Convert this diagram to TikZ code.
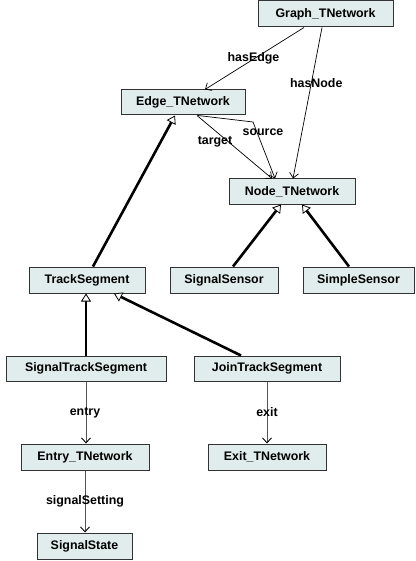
\documentclass[tikz,border=0pt]{standalone}
\usepackage{fontspec}
\setmainfont{Liberation Sans}
\usetikzlibrary{arrows.meta}
\definecolor{boxfill}{HTML}{E1ECEC}
\definecolor{boxline}{HTML}{333333}
\definecolor{navline}{HTML}{555555}
\tikzset{
  cls/.style={draw=boxline, line width=1pt, fill=boxfill, inner sep=0pt,
    font=\fontsize{12.4}{14}\selectfont\bfseries},
  lbl/.style={inner sep=0pt, font=\fontsize{12.4}{14}\selectfont\bfseries},
  assoc/.style={draw=black, line width=0.7pt, -{Straight Barb[length=5pt,width=9pt,line width=0.7pt]}},
  nav/.style={draw=navline, line width=1pt, -{Straight Barb[length=5pt,width=9pt,line width=0.9pt,color=black]}},
  inherit/.style={draw=black, line width=2.6pt, -{Triangle[open,length=8pt,width=10pt,line width=0.8pt,fill=white]}},
}
\begin{document}
\begin{tikzpicture}[x=1pt,y=-1pt]
\useasboundingbox (0,0) rectangle (415,561);

% classes
\node[cls, minimum width=135pt, minimum height=26pt] (graph) at (325.5,14) {Graph\_TNetwork};
\node[cls, minimum width=124pt, minimum height=25pt] (edge) at (183,102.5) {Edge\_TNetwork};
\node[cls, minimum width=126pt, minimum height=25pt] (nodeT) at (292,191.5) {Node\_TNetwork};
\node[cls, minimum width=116pt, minimum height=26pt] (track) at (87,280) {TrackSegment};
\node[cls, minimum width=108pt, minimum height=26pt] (sigsens) at (224,280) {SignalSensor};
\node[cls, minimum width=111pt, minimum height=26pt] (simsens) at (358.5,280) {SimpleSensor};
\node[cls, minimum width=160pt, minimum height=25pt] (sigtrack) at (86,368.5) {SignalTrackSegment};
\node[cls, minimum width=146pt, minimum height=25pt] (jointrack) at (267,368.5) {JoinTrackSegment};
\node[cls, minimum width=128pt, minimum height=26pt] (entry) at (85,457) {Entry\_TNetwork};
\node[cls, minimum width=118pt, minimum height=26pt] (exitT) at (267,457) {Exit\_TNetwork};
\node[cls, minimum width=95pt, minimum height=26pt] (sigstate) at (84.5,546) {SignalState};

% associations
\draw[assoc] ([xshift=-21.5pt]graph.south) -- node[lbl, pos=0.49, xshift=-2pt] (lhasedge) {hasEdge} ([xshift=22pt]edge.north);
\draw[assoc] ([xshift=-3.5pt]graph.south) -- node[lbl, pos=0.37, xshift=5pt] (lhasnode) {hasNode} ([xshift=1pt]nodeT.north);
\draw[assoc] ([xshift=14pt]edge.south) -- node[lbl, pos=0.4, xshift=-12pt, yshift=-1pt] (ltarget) {target} ([xshift=-20pt]nodeT.north);
\coordinate (srcbend) at (253,122);
\draw[assoc] ([xshift=15pt]edge.south) -- (srcbend) -- ([xshift=-17pt]nodeT.north);
\node[lbl] (lsource) at (263,132) {source};

% generalisations
\draw[inherit] ([xshift=6pt]track.north) -- ([xshift=-8pt]edge.south);
\draw[inherit] ([xshift=9pt]sigsens.north) -- ([xshift=-11pt]nodeT.south);
\draw[inherit] ([xshift=-9.5pt]simsens.north) -- ([xshift=10pt]nodeT.south);
\draw[inherit] (sigtrack.north) -- ([xshift=-1pt]track.south);
\draw[inherit] ([xshift=-26pt]jointrack.north) -- ([xshift=27pt]track.south);

% navigable references
\draw[nav] (sigtrack.south) -- node[lbl, pos=0.5, xshift=-1pt] (lentry) {entry} ([xshift=1pt]entry.north);
\draw[nav] (jointrack.south) -- node[lbl, pos=0.5] (lexit) {exit} (exitT.north);
\draw[nav] (entry.south) -- node[lbl, pos=0.5] (lsetting) {signalSetting} ([xshift=0.5pt]sigstate.north);
\end{tikzpicture}
\end{document}
